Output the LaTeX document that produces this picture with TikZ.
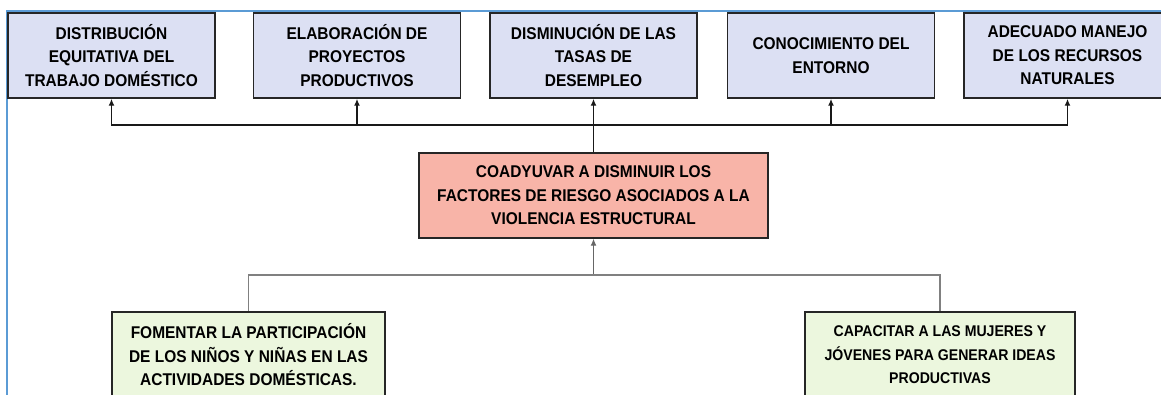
\documentclass[tikz,border=0pt]{standalone}
\usepackage{fontspec}
\setmainfont{Liberation Sans}[FakeStretch=0.91]
\usetikzlibrary{arrows.meta}
\definecolor{topfill}{RGB}{220,224,243}
\definecolor{goalfill}{RGB}{248,180,168}
\definecolor{basefill}{RGB}{236,247,222}
\definecolor{framecol}{RGB}{91,155,213}
\begin{document}
\begin{tikzpicture}[x=1pt,y=-1pt,
	box/.style={draw=black!85,line width=1.5pt,minimum height=85pt,inner sep=2pt,align=center,
		font=\bfseries\fontsize{17}{23.5}\selectfont},
	conn/.style={-{Latex[length=7pt,width=6pt]},line width=1.4pt,black!90},
	gconn/.style={line width=1.1pt,black!50}]
	\useasboundingbox (0,0) rectangle (1161,395);
	%frame
	\draw[framecol,line width=1.5pt] (7,400) -- (7,11) -- (1170,11);
	%effects row
	\def\y{55.5}
	\def\w{207pt}
	% Text Node
	\draw (111.5,\y) node[box,fill=topfill,minimum width=\w] (b1) {DISTRIBUCIÓN\\EQUITATIVA DEL\\TRABAJO DOMÉSTICO};
	% Text Node
	\draw (357,\y) node[box,fill=topfill,minimum width=\w] (b2) {ELABORACIÓN DE\\PROYECTOS\\PRODUCTIVOS};
	% Text Node
	\draw (593.5,\y) node[box,fill=topfill,minimum width=\w] (b3) {DISMINUCIÓN DE LAS\\TASAS DE\\DESEMPLEO};
	% Text Node
	\draw (831,\y) node[box,fill=topfill,minimum width=\w] (b4) {CONOCIMIENTO DEL\\ENTORNO};
	% Text Node
	\draw (1067.5,\y) node[box,fill=topfill,minimum width=\w] (b5) {ADECUADO MANEJO\\DE LOS RECURSOS\\NATURALES};
	
	%goal
	\draw (593.5,195.5) node[box,fill=goalfill,minimum width=349pt] (goal) {COADYUVAR A DISMINUIR LOS\\FACTORES DE RIESGO ASOCIADOS A LA\\VIOLENCIA ESTRUCTURAL};
	
	%means row
	% Text Node
	\draw (248.5,355) node[box,fill=basefill,minimum width=273pt,minimum height=86pt] (g1) {FOMENTAR LA PARTICIPACIÓN\\DE LOS NIÑOS Y NIÑAS EN LAS\\ACTIVIDADES DOMÉSTICAS.};
	% Text Node
	\draw (940,355) node[box,fill=basefill,minimum width=270pt,minimum height=86pt,
		font=\bfseries\fontsize{15.5}{23.5}\selectfont] (g2) {CAPACITAR A LAS MUJERES Y\\JÓVENES PARA GENERAR IDEAS\\PRODUCTIVAS};
	
	%upper connectors
	\coordinate (bar) at (593.5,125);
	\draw[conn] (goal.north) -- (b3.south);
	\draw[conn] (bar) -| (b1.south);
	\draw[conn] (bar) -| (b2.south);
	\draw[conn] (bar) -| (b4.south);
	\draw[conn] (bar) -| (b5.south);
	
	%lower connectors
	\coordinate (jn) at (593.5,275);
	\draw[gconn,-{Latex[length=7pt,width=6pt]},black!60] (jn) -- (goal.south);
	\draw[gconn] (jn) -| (g1.north);
	\draw[gconn] (jn) -| (g2.north);
\end{tikzpicture}
\end{document}
